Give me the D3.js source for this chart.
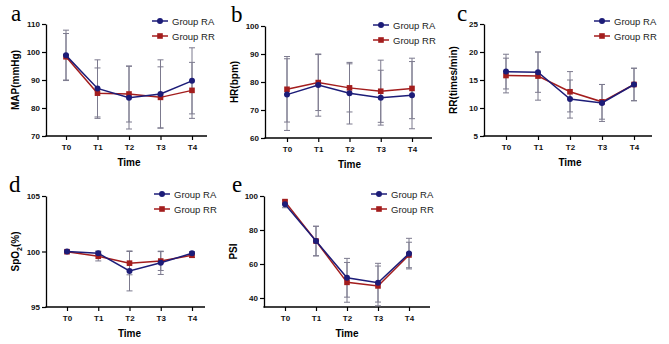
<!DOCTYPE html>
<html>
<head>
<meta charset="utf-8">
<script src="https://cdn.jsdelivr.net/npm/d3@7"></script>
<style>
  body { margin: 0; background: #fff; }
  svg { display: block; }
</style>
</head>
<body>
<div id="viz"></div>
<script>
const width = 669;
const height = 344;
const colorRA = '#1c1c78';
const colorRR = '#a31d1d';
const errColor = '#7c7a8e';

// data (mean, sd)
const timePoints = ['T0', 'T1', 'T2', 'T3', 'T4'];
const groupNames = ['Group RA', 'Group RR'];

const mapRA = [98.8, 87.0, 83.7, 85.0, 89.7];
const mapRAsd = [9.0, 10.2, 11.2, 12.2, 11.8];
const mapRR = [98.3, 85.3, 85.0, 83.8, 86.3];
const mapRRsd = [8.3, 9.0, 10.0, 10.9, 10.0];
const mapTicks = [70, 80, 90, 100, 110];

const hrRA = [75.5, 78.9, 76.0, 74.4, 75.3];
const hrRAsd = [12.8, 11.1, 11.0, 9.8, 12.0];
const hrRR = [77.4, 79.8, 77.9, 76.7, 77.7];
const hrRRsd = [11.7, 10.0, 8.6, 11.1, 10.8];
const hrTicks = [60, 70, 80, 90, 100];

const rrRA = [16.5, 16.4, 11.6, 10.9, 14.2];
const rrRAsd = [3.1, 3.6, 3.4, 3.3, 2.9];
const rrRR = [15.8, 15.7, 12.9, 11.1, 14.2];
const rrRRsd = [3.1, 4.3, 3.6, 3.1, 2.9];
const rrTicks = [5, 10, 15, 20, 25];

const spoRA = [100.0, 99.84, 98.25, 98.98, 99.84];
const spoRAsd = [0.1, 0.2, 1.8, 1.05, 0.15];
const spoRR = [99.98, 99.57, 98.95, 99.14, 99.66];
const spoRRsd = [0.1, 0.42, 1.05, 0.85, 0.2];
const spoTicks = [95, 100, 105];

const psiRA = [95.1, 73.5, 51.9, 49.0, 66.1];
const psiRAsd = [2.0, 8.7, 11.4, 11.4, 9.0];
const psiRR = [96.7, 73.5, 49.2, 47.1, 65.3];
const psiRRsd = [1.0, 8.7, 11.7, 11.7, 7.5];
const psiTicks = [40, 60, 80, 100];

// panel layout (pixel frame of each plot)
const panels = [
  {letter: 'a', ylabel: 'MAP(mmHg)', ra: mapRA, raSd: mapRAsd, rr: mapRR, rrSd: mapRRsd, ticks: mapTicks,
   yDomain: [70, 110], left: 46, top: 24, bottom: 136, x0: 66, x4: 192, end: 207,
   letterX: 11, letterY: 21, legX: 152, legY: 21},
  {letter: 'b', ylabel: 'HR(bpm)', ra: hrRA, raSd: hrRAsd, rr: hrRR, rrSd: hrRRsd, ticks: hrTicks,
   yDomain: [60, 100], left: 265, top: 26, bottom: 138, x0: 287, x4: 412, end: 432,
   letterX: 231, letterY: 22, legX: 373, legY: 25},
  {letter: 'c', ylabel: 'RR(times/min)', ra: rrRA, raSd: rrRAsd, rr: rrRR, rrSd: rrRRsd, ticks: rrTicks,
   yDomain: [5, 25], left: 484, top: 24, bottom: 136, x0: 506, x4: 634, end: 652,
   letterX: 457, letterY: 21, legX: 594, legY: 21},
  {letter: 'd', ylabel: 'SpO', sub: '2', suffix: '(%)', ra: spoRA, raSd: spoRAsd, rr: spoRR, rrSd: spoRRsd, ticks: spoTicks,
   yDomain: [95, 105], left: 46, top: 196, bottom: 307, x0: 67, x4: 192, end: 205,
   letterX: 9, letterY: 192, legX: 154, legY: 194},
  {letter: 'e', ylabel: 'PSI', ra: psiRA, raSd: psiRAsd, rr: psiRR, rrSd: psiRRsd, ticks: psiTicks,
   yDomain: [34.7, 100], left: 264, top: 196, bottom: 307, x0: 285, x4: 409, end: 430,
   letterX: 232, letterY: 192, legX: 371, legY: 194}
];

const svg = d3.select('#viz')
  .append('svg')
    .attr('width', width)
    .attr('height', height)
    .style('font-family', 'Liberation Sans, Arial, sans-serif');

const drawPanel = (p) => {
  const g = svg.append('g');

  const xScale = d3.scalePoint()
    .domain(timePoints)
    .range([p.x0, p.x4]);

  const yScale = d3.scaleLinear()
    .domain(p.yDomain)
    .range([p.bottom, p.top]);

  // y axis
  g.append('g')
      .attr('transform', `translate(${p.left},0)`)
      .call(d3.axisLeft(yScale).tickValues(p.ticks).tickSize(4).tickSizeOuter(0).tickPadding(2))
      .call(a => a.select('.domain').attr('stroke-width', 1.3))
      .call(a => a.selectAll('.tick line').attr('stroke-width', 1.2))
      .call(a => a.selectAll('.tick text')
        .attr('font-size', 8)
        .attr('font-weight', 'bold')
        .attr('font-family', 'Liberation Sans, Arial, sans-serif')
        .attr('fill', '#111'));

  // x axis
  g.append('line')
      .attr('x1', p.left - 0.6)
      .attr('x2', p.end)
      .attr('y1', p.bottom)
      .attr('y2', p.bottom)
      .attr('stroke', '#000')
      .attr('stroke-width', 1.3);

  g.append('g')
      .attr('transform', `translate(0,${p.bottom})`)
      .call(d3.axisBottom(xScale).tickSize(4).tickPadding(4))
      .call(a => a.select('.domain').remove())
      .call(a => a.selectAll('.tick line').attr('stroke-width', 1.2))
      .call(a => a.selectAll('.tick text')
        .attr('font-size', 8)
        .attr('font-weight', 'bold')
        .attr('font-family', 'Liberation Sans, Arial, sans-serif')
        .attr('fill', '#111'));

  g.append('text')
      .attr('x', (p.x0 + p.x4) / 2)
      .attr('y', p.bottom + 30)
      .attr('text-anchor', 'middle')
      .attr('font-size', 10)
      .attr('font-weight', 'bold')
      .text('Time');

  // y label
  const yl = g.append('text')
      .attr('transform', `translate(${p.left - 27},${(p.top + p.bottom) / 2}) rotate(-90)`)
      .attr('text-anchor', 'middle')
      .attr('font-size', 10)
      .attr('font-weight', 'bold')
      .text(p.ylabel);
  if (p.sub) {
    yl.append('tspan').attr('font-size', 7).attr('dy', 2.5).text(p.sub);
    yl.append('tspan').attr('dy', -2.5).text(p.suffix);
  }

  // panel letter
  g.append('text')
      .attr('x', p.letterX)
      .attr('y', p.letterY)
      .attr('font-family', 'Liberation Serif, Times New Roman, serif')
      .attr('font-size', 23)
      .text(p.letter);

  const series = [
    {name: groupNames[0], mean: p.ra, sd: p.raSd, color: colorRA, shape: 'circle'},
    {name: groupNames[1], mean: p.rr, sd: p.rrSd, color: colorRR, shape: 'square'}
  ];

  // error bars
  series.forEach(s => {
    const eb = g.append('g').attr('stroke', errColor).attr('stroke-width', 1);
    timePoints.forEach((t, i) => {
      const x = xScale(t);
      const hi = yScale(s.mean[i] + s.sd[i]);
      const lo = Math.min(yScale(s.mean[i] - s.sd[i]), p.bottom);
      eb.append('line').attr('x1', x).attr('x2', x).attr('y1', hi).attr('y2', lo);
      eb.append('line').attr('x1', x - 3).attr('x2', x + 3).attr('y1', hi).attr('y2', hi);
      if (lo < p.bottom) {
        eb.append('line').attr('x1', x - 3).attr('x2', x + 3).attr('y1', lo).attr('y2', lo);
      }
    });
  });

  const line = d3.line()
    .x((d, i) => xScale(timePoints[i]))
    .y(d => yScale(d));

  // RR drawn first, RA on top
  series.slice().reverse().forEach(s => {
    g.append('path')
        .attr('d', line(s.mean))
        .attr('fill', 'none')
        .attr('stroke', s.color)
        .attr('stroke-width', 1.5);
    const pts = g.append('g').attr('fill', s.color);
    s.mean.forEach((v, i) => {
      const x = xScale(timePoints[i]);
      const y = yScale(v);
      if (s.shape === 'circle') {
        pts.append('circle').attr('cx', x).attr('cy', y).attr('r', 3);
      } else {
        pts.append('rect').attr('x', x - 2.8).attr('y', y - 2.8).attr('width', 5.6).attr('height', 5.6);
      }
    });
  });

  // legend
  series.forEach((s, k) => {
    const ly = p.legY + k * 15;
    g.append('line')
        .attr('x1', p.legX)
        .attr('x2', p.legX + 16)
        .attr('y1', ly)
        .attr('y2', ly)
        .attr('stroke', s.color)
        .attr('stroke-width', 1.5);
    if (s.shape === 'circle') {
      g.append('circle').attr('cx', p.legX + 8).attr('cy', ly).attr('r', 3).attr('fill', s.color);
    } else {
      g.append('rect').attr('x', p.legX + 5.2).attr('y', ly - 2.8).attr('width', 5.6).attr('height', 5.6).attr('fill', s.color);
    }
    g.append('text')
        .attr('x', p.legX + 20)
        .attr('y', ly + 3.5)
        .attr('font-size', 9.5)
        .attr('fill', '#222')
        .text(s.name);
  });
};

panels.forEach(drawPanel);
</script>
</body>
</html>
